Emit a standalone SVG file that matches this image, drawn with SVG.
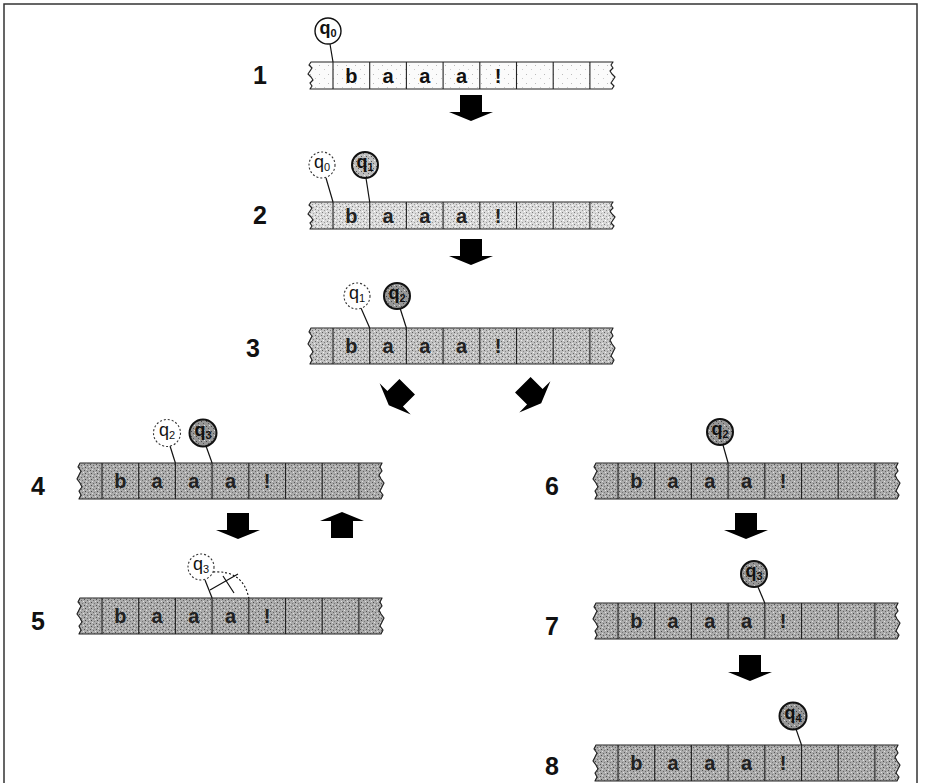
<svg xmlns="http://www.w3.org/2000/svg" xmlns:xlink="http://www.w3.org/1999/xlink" width="925" height="783" viewBox="0 0 925 783">
<style>
.frame{fill:none;stroke:#333;stroke-width:1.5}
.tape{stroke:#222;stroke-width:1.2;stroke-linejoin:round}
.div{fill:none;stroke:#222;stroke-width:1.1}
.num{font-family:"Liberation Sans",Arial,sans-serif;font-weight:bold;font-size:25px;fill:#111;text-anchor:middle}
.cell{font-family:"Liberation Sans",Arial,sans-serif;font-weight:bold;font-size:20px;fill:#111;text-anchor:middle}
.cellg{font-family:"Liberation Sans",Arial,sans-serif;font-weight:bold;font-size:20px;fill:#222;text-anchor:middle}
.q{font-family:"Liberation Sans",Arial,sans-serif;font-size:18px;fill:#111;text-anchor:middle}
.qb{font-family:"Liberation Sans",Arial,sans-serif;font-weight:bold;font-size:18px;fill:#111;text-anchor:middle}
.cw{fill:#fff;stroke:#111;stroke-width:1.4}
.cd{fill:#fff;stroke:#333;stroke-width:1.1;stroke-dasharray:2 2}
.ck{fill:url(#pc);stroke:#111;stroke-width:2}
.cm{fill:url(#pm);stroke:#111;stroke-width:2}
.ptr{fill:none;stroke:#111;stroke-width:1.2}
.dot{fill:none;stroke:#111;stroke-width:1.1;stroke-dasharray:2 2}
.arrow{fill:#000}
</style>
<defs>
<pattern id="p1" patternUnits="userSpaceOnUse" width="9" height="9">
<rect width="9" height="9" fill="#fbfbfb"/>
<rect x="2" y="3" width="1" height="1" fill="#bbb"/>
<rect x="7" y="7" width="1" height="1" fill="#ccc"/>
</pattern>
<pattern id="p2" patternUnits="userSpaceOnUse" width="6" height="6">
<rect width="6" height="6" fill="#dadada"/>
<rect x="1" y="1" width="1" height="1" fill="#888"/>
<rect x="4" y="2" width="1" height="1" fill="#999"/>
<rect x="2" y="4" width="1" height="1" fill="#7a7a7a"/>
<rect x="5" y="5" width="1" height="1" fill="#aaa"/>
<rect x="0" y="3" width="1" height="1" fill="#fff"/>
<rect x="3" y="0" width="1" height="1" fill="#fff"/>
</pattern>
<pattern id="p3" patternUnits="userSpaceOnUse" width="6" height="6">
<rect width="6" height="6" fill="#c0c0c0"/>
<rect x="1" y="1" width="1" height="1" fill="#666"/>
<rect x="4" y="2" width="1" height="1" fill="#777"/>
<rect x="2" y="4" width="1" height="1" fill="#5a5a5a"/>
<rect x="5" y="5" width="1" height="1" fill="#888"/>
<rect x="0" y="3" width="1" height="1" fill="#eee"/>
<rect x="3" y="0" width="1" height="1" fill="#f0f0f0"/>
</pattern>
<pattern id="p4" patternUnits="userSpaceOnUse" width="6" height="6">
<rect width="6" height="6" fill="#ababab"/>
<rect x="1" y="1" width="1" height="1" fill="#555"/>
<rect x="4" y="2" width="1" height="1" fill="#666"/>
<rect x="2" y="4" width="1" height="1" fill="#4a4a4a"/>
<rect x="5" y="5" width="1" height="1" fill="#777"/>
<rect x="0" y="3" width="1" height="1" fill="#e0e0e0"/>
<rect x="3" y="0" width="1" height="1" fill="#ddd"/>
</pattern>
<pattern id="pc" patternUnits="userSpaceOnUse" width="5" height="5">
<rect width="5" height="5" fill="#979797"/>
<rect x="1" y="1" width="1" height="1" fill="#444"/>
<rect x="3" y="3" width="1" height="1" fill="#555"/>
<rect x="4" y="0" width="1" height="1" fill="#ddd"/>
</pattern>
<pattern id="pm" patternUnits="userSpaceOnUse" width="5" height="5">
<rect width="5" height="5" fill="#bdbdbd"/>
<rect x="1" y="1" width="1" height="1" fill="#555"/>
<rect x="3" y="3" width="1" height="1" fill="#666"/>
<rect x="4" y="0" width="1" height="1" fill="#eee"/>
</pattern>
<path id="tapeL" d="M3,0 L1,4 L4,8 L2,12 L0,16 L3,20 L5,24 L2,28 L4,32 L2,36 H304 L306,32 L303,28 L305,24 L307,20 L304,16 L302,12 L305,8 L303,4 L305,0 Z"/>
<path id="tapeS" d="M3,0 L1,3 L4,6 L2,9 L0,12 L3,15 L5,18 L2,21 L4,24 L2,27 H304 L306,24 L303,21 L305,18 L307,15 L304,12 L302,9 L305,6 L303,3 L305,0 Z"/>
<path id="divL" d="M25,0V36 M61.7,0V36 M98.4,0V36 M135.1,0V36 M171.8,0V36 M208.5,0V36 M245.2,0V36 M281.9,0V36"/>
<path id="divS" d="M25,0V27 M61.7,0V27 M98.4,0V27 M135.1,0V27 M171.8,0V27 M208.5,0V27 M245.2,0V27 M281.9,0V27"/>
<path id="arr" d="M-11,-13 H11 V4 H22 L0,13 L-22,4 H-11 Z"/>
</defs>

<rect class="frame" x="4" y="4" width="913" height="800"/>

<g id="step1">
<text class="num" x="260" y="84">1</text>
<use href="#tapeS" x="308" y="62" class="tape" fill="url(#p1)"/>
<use href="#divS" x="308" y="62" class="div"/>
<text class="cell" x="351.4" y="83">b</text><text class="cell" x="388.1" y="83">a</text><text class="cell" x="424.8" y="83">a</text><text class="cell" x="461.5" y="83">a</text><text class="cell" x="498.2" y="83">!</text>
<line class="ptr" x1="330" y1="44" x2="333" y2="62"/>
<circle class="cw" cx="328" cy="31" r="13"/>
<text class="qb" x="328" y="34">q<tspan font-size="11" dy="3">0</tspan></text>
</g>

<g id="step2">
<text class="num" x="260" y="224">2</text>
<use href="#tapeS" x="308" y="202" class="tape" fill="url(#p2)"/>
<use href="#divS" x="308" y="202" class="div"/>
<text class="cellg" x="351.4" y="223">b</text><text class="cellg" x="388.1" y="223">a</text><text class="cellg" x="424.8" y="223">a</text><text class="cellg" x="461.5" y="223">a</text><text class="cellg" x="498.2" y="223">!</text>
<line class="ptr" x1="326" y1="178" x2="333" y2="202"/>
<circle class="cd" cx="322" cy="165" r="13"/>
<text class="q" x="322" y="168">q<tspan font-size="11" dy="3">0</tspan></text>
<line class="ptr" x1="366" y1="178" x2="369.7" y2="202"/>
<circle class="cm" cx="365" cy="165" r="13"/>
<text class="qb" x="365" y="168">q<tspan font-size="11" dy="3">1</tspan></text>
</g>

<g id="step3">
<text class="num" x="253" y="357">3</text>
<use href="#tapeL" x="308" y="328" class="tape" fill="url(#p3)"/>
<use href="#divL" x="308" y="328" class="div"/>
<text class="cellg" x="351.4" y="353">b</text><text class="cellg" x="388.1" y="353">a</text><text class="cellg" x="424.8" y="353">a</text><text class="cellg" x="461.5" y="353">a</text><text class="cellg" x="498.2" y="353">!</text>
<line class="ptr" x1="361" y1="308" x2="369.7" y2="328"/>
<circle class="cd" cx="357" cy="296" r="13"/>
<text class="q" x="357" y="299">q<tspan font-size="11" dy="3">1</tspan></text>
<line class="ptr" x1="400" y1="308" x2="406.4" y2="328"/>
<circle class="ck" cx="397" cy="296" r="13"/>
<text class="qb" x="397" y="299">q<tspan font-size="11" dy="3">2</tspan></text>
</g>

<g id="step4">
<text class="num" x="38" y="495">4</text>
<use href="#tapeL" x="77" y="463" class="tape" fill="url(#p4)"/>
<use href="#divL" x="77" y="463" class="div"/>
<text class="cellg" x="120.4" y="488">b</text><text class="cellg" x="157.1" y="488">a</text><text class="cellg" x="193.8" y="488">a</text><text class="cellg" x="230.5" y="488">a</text><text class="cellg" x="267.2" y="488">!</text>
<line class="ptr" x1="170" y1="446" x2="175.4" y2="463"/>
<circle class="cd" cx="167" cy="433" r="13.5"/>
<text class="q" x="167" y="436">q<tspan font-size="11" dy="3">2</tspan></text>
<line class="ptr" x1="206" y1="446" x2="212.1" y2="463"/>
<circle class="ck" cx="203" cy="433" r="13.5"/>
<text class="qb" x="203" y="436">q<tspan font-size="11" dy="3">3</tspan></text>
</g>

<g id="step5">
<text class="num" x="38" y="630">5</text>
<use href="#tapeL" x="77" y="598" class="tape" fill="url(#p4)"/>
<use href="#divL" x="77" y="598" class="div"/>
<text class="cellg" x="120.4" y="623">b</text><text class="cellg" x="157.1" y="623">a</text><text class="cellg" x="193.8" y="623">a</text><text class="cellg" x="230.5" y="623">a</text><text class="cellg" x="267.2" y="623">!</text>
<line class="ptr" x1="205" y1="580" x2="212.1" y2="598"/>
<path class="dot" d="M213,572 Q243,570 248.8,598"/>
<path class="ptr" d="M210,590 L238,574 M223,576 L234,593"/>
<circle class="cd" cx="201" cy="567" r="13"/>
<text class="q" x="201" y="570">q<tspan font-size="11" dy="3">3</tspan></text>
</g>

<g id="step6">
<text class="num" x="552" y="495">6</text>
<use href="#tapeL" x="593" y="463" class="tape" fill="url(#p4)"/>
<use href="#divL" x="593" y="463" class="div"/>
<text class="cellg" x="636.4" y="488">b</text><text class="cellg" x="673.1" y="488">a</text><text class="cellg" x="709.8" y="488">a</text><text class="cellg" x="746.5" y="488">a</text><text class="cellg" x="783.2" y="488">!</text>
<line class="ptr" x1="723" y1="445" x2="728.1" y2="463"/>
<circle class="ck" cx="720" cy="432" r="13"/>
<text class="qb" x="720" y="435">q<tspan font-size="11" dy="3">2</tspan></text>
</g>

<g id="step7">
<text class="num" x="552" y="635">7</text>
<use href="#tapeL" x="593" y="603" class="tape" fill="url(#p4)"/>
<use href="#divL" x="593" y="603" class="div"/>
<text class="cellg" x="636.4" y="628">b</text><text class="cellg" x="673.1" y="628">a</text><text class="cellg" x="709.8" y="628">a</text><text class="cellg" x="746.5" y="628">a</text><text class="cellg" x="783.2" y="628">!</text>
<line class="ptr" x1="758" y1="587" x2="764.8" y2="603"/>
<circle class="ck" cx="754" cy="574" r="13"/>
<text class="qb" x="754" y="577">q<tspan font-size="11" dy="3">3</tspan></text>
</g>

<g id="step8">
<text class="num" x="552" y="775">8</text>
<use href="#tapeL" x="593" y="745" class="tape" fill="url(#p4)"/>
<use href="#divL" x="593" y="745" class="div"/>
<text class="cellg" x="636.4" y="770">b</text><text class="cellg" x="673.1" y="770">a</text><text class="cellg" x="709.8" y="770">a</text><text class="cellg" x="746.5" y="770">a</text><text class="cellg" x="783.2" y="770">!</text>
<line class="ptr" x1="796" y1="729" x2="801.5" y2="745"/>
<circle class="ck" cx="793" cy="716" r="13.5"/>
<text class="qb" x="793" y="719">q<tspan font-size="11" dy="3">4</tspan></text>
</g>

<g id="connectors">
<use href="#arr" class="arrow" transform="translate(471,108)"/>
<use href="#arr" class="arrow" transform="translate(471,252)"/>
<use href="#arr" class="arrow" transform="translate(398,396) rotate(45)"/>
<use href="#arr" class="arrow" transform="translate(532,394) rotate(-45)"/>
<use href="#arr" class="arrow" transform="translate(238,526)"/>
<use href="#arr" class="arrow" transform="translate(342,525) rotate(180)"/>
<use href="#arr" class="arrow" transform="translate(746,526)"/>
<use href="#arr" class="arrow" transform="translate(750,668)"/>
</g>
</svg>
